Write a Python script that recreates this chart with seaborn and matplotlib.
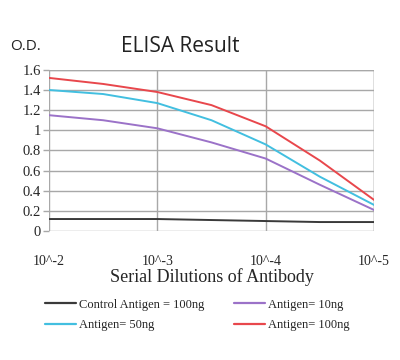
import matplotlib
matplotlib.use("Agg")
import matplotlib.pyplot as plt
import seaborn as sns
import pandas as pd

# Data (x = dilution step position, 0 -> 10^-2 ... 3 -> 10^-5)
x_pos = [0, 0.5, 1, 1.5, 2, 2.5, 3]
control_100 = [0.12, 0.12, 0.12, 0.11, 0.10, 0.09, 0.09]
antigen_10 = [1.15, 1.10, 1.02, 0.88, 0.72, 0.46, 0.21]
antigen_50 = [1.40, 1.36, 1.27, 1.10, 0.86, 0.54, 0.26]
antigen_100 = [1.52, 1.46, 1.38, 1.25, 1.04, 0.70, 0.31]
series_names = ["Control Antigen = 100ng", "Antigen= 10ng", "Antigen= 50ng", "Antigen= 100ng"]
x_tick_labels = ["10^-2", "10^-3", "10^-4", "10^-5"]
y_ticks = [0, 0.2, 0.4, 0.6, 0.8, 1, 1.2, 1.4, 1.6]

rows = []
for name, vals in zip(series_names, [control_100, antigen_10, antigen_50, antigen_100]):
    for x, v in zip(x_pos, vals):
        rows.append({"x": x, "od": v, "series": name})
df = pd.DataFrame(rows)

sns.set_style("white")
palette = {
    series_names[0]: "#3a3a3a",
    series_names[1]: "#9b72c8",
    series_names[2]: "#42bfe0",
    series_names[3]: "#e8474c",
}

fig = plt.figure(figsize=(4.0, 3.6), dpi=100)
ax = fig.add_axes([0.1225, 0.358, 0.8125, 0.448])

sns.lineplot(data=df, x="x", y="od", hue="series", hue_order=series_names,
             palette=palette, linewidth=1.4, ax=ax, legend=False, sort=True)

ax.set_xlim(0, 3)
ax.set_ylim(0, 1.6)
ax.set_xticks([0, 1, 2, 3])
ax.set_xticklabels(x_tick_labels, family="Liberation Serif", fontsize=10)
ax.set_yticks(y_ticks)
ax.set_yticklabels([("%g" % t) for t in y_ticks], family="Liberation Serif", fontsize=10.5)
ax.grid(True, color="#a8a8a8", linewidth=1.0)
ax.set_axisbelow(True)
for side in ["top", "right", "bottom", "left"]:
    ax.spines[side].set_visible(False)
ax.axvline(3, color="#a8a8a8", linewidth=1.0, zorder=0)
ax.axhline(1.6, color="#a8a8a8", linewidth=1.0, zorder=0)
ax.tick_params(axis="y", length=4, width=1, color="#a8a8a8", pad=2, left=True)
ax.tick_params(axis="x", length=0, pad=17)
ax.set_xlabel("Serial Dilutions of Antibody", family="Liberation Serif", fontsize=13, labelpad=0)
ax.set_ylabel("")

fig.text(0.025, 0.87, "O.D.", family="Open Sans", fontsize=11, color="#222222", va="center")
fig.text(0.45, 0.87, "ELISA Result", family="Open Sans", fontsize=15, color="#222222",
         va="center", ha="center")

order = [0, 2, 1, 3]  # column-wise fill -> rows: (Control, 10ng), (50ng, 100ng)
handles = [plt.Line2D([], [], color=palette[series_names[i]], linewidth=1.6) for i in order]
labels = [series_names[i] for i in order]
leg = fig.legend(handles, labels, loc="upper left", bbox_to_anchor=(0.112, 0.17),
                 ncol=2, frameon=False, prop={"family": "Liberation Serif", "size": 9},
                 handlelength=2.5, handletextpad=0.2, columnspacing=2.4, labelspacing=0.65,
                 borderaxespad=0, borderpad=0)

fig.savefig("out.png", dpi=100)
